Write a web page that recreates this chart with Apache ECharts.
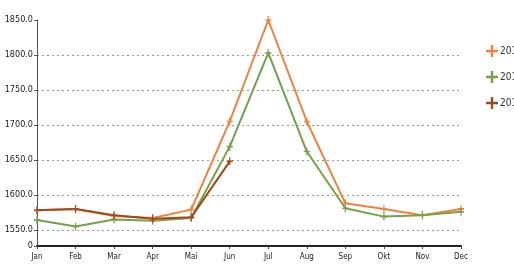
<!DOCTYPE html>
<html>
<head>
<meta charset="utf-8">
<script src="https://cdn.jsdelivr.net/npm/echarts@6/dist/echarts.min.js"></script>
<style>
html, body { margin: 0; padding: 0; background: #fff; }
#main { width: 514px; height: 266px; }
</style>
</head>
<body>
<div id="main"></div>
<script>
// months on the x axis
var months = ['Jan', 'Feb', 'Mar', 'Apr', 'Mai', 'Jun', 'Jul', 'Aug', 'Sep', 'Okt', 'Nov', 'Dec'];
var seriesNames = ['2011', '2012', '2013'];
// values
var values2011 = [1578, 1580, 1570, 1567, 1579, 1705, 1850, 1705, 1588, 1580, 1571, 1580];
var values2012 = [1564, 1555, 1565, 1563, 1567, 1669, 1803, 1662, 1581, 1569, 1571, 1576];
var values2013 = [1578, 1580, 1571, 1566, 1568, 1648];
// y ticks: broken axis, bottom shows 0
var yTicks = [1527, 1550, 1600, 1650, 1700, 1750, 1800, 1850];
var colors = ['#f0813f', '#76a04a', '#a04a1c'];

var plusPath = 'path://M4,0 L6,0 L6,4 L10,4 L10,6 L6,6 L6,10 L4,10 L4,6 L0,6 L0,4 L4,4 Z';
var font = '"Liberation Sans Narrow", "DejaVu Sans Condensed", sans-serif';

function makeSeries(name, data, color) {
    return {
        name: name,
        type: 'line',
        data: data,
        symbol: plusPath,
        symbolSize: [6, 8],
        showAllSymbol: true,
        lineStyle: {color: color, width: 2},
        itemStyle: {color: color}
    };
}

var option = {
    animation: false,
    color: colors,
    grid: {left: 37, right: 53, top: 20, bottom: 20},
    legend: {
        orient: 'vertical',
        left: 481,
        top: 40,
        itemGap: 14,
        itemWidth: 12,
        itemHeight: 12,
        icon: plusPath,
        textStyle: {fontFamily: font, fontSize: 10, color: '#333', padding: [0, 0, 0, -3]},
        data: seriesNames
    },
    xAxis: {
        type: 'category',
        boundaryGap: false,
        data: months,
        axisLine: {lineStyle: {color: '#222', width: 2}},
        axisTick: {show: true, length: 3, lineStyle: {color: '#444'}},
        axisLabel: {fontFamily: font, fontSize: 8, color: '#222', margin: 7, interval: 0}
    },
    yAxis: {
        type: 'value',
        min: 1527,
        max: 1850,
        axisLine: {show: true, lineStyle: {color: '#555', width: 1}},
        axisTick: {show: true, length: 3, customValues: yTicks, lineStyle: {color: '#555'}},
        axisLabel: {
            customValues: yTicks,
            fontFamily: font,
            fontSize: 9,
            color: '#222',
            margin: 4,
            formatter: function (v) {
                return v === 1527 ? '0' : v.toFixed(1);
            }
        },
        splitLine: {
            show: true,
            lineStyle: {
                // no grid line on the top tick
                color: ['#999', '#999', '#999', '#999', '#999', '#999', '#999', 'rgba(0,0,0,0)'],
                type: [2, 3],
                width: 1
            }
        }
    },
    series: [
        makeSeries(seriesNames[0], values2011, colors[0]),
        makeSeries(seriesNames[1], values2012, colors[1]),
        makeSeries(seriesNames[2], values2013, colors[2])
    ]
};

var myChart = echarts.init(document.getElementById('main'));
myChart.setOption(option);
</script>
</body>
</html>
